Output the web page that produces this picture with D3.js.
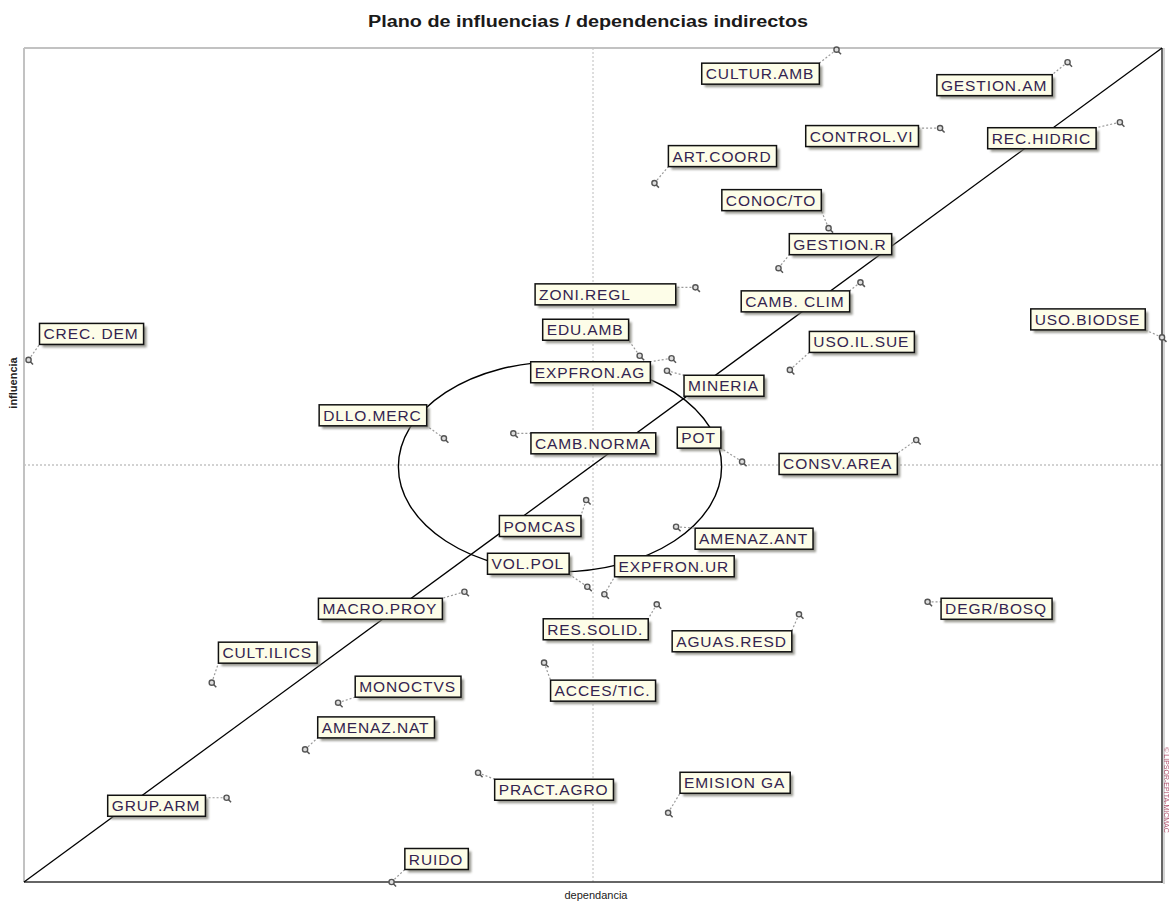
<!DOCTYPE html>
<html>
<head>
<meta charset="utf-8">
<script src="https://cdn.jsdelivr.net/npm/d3@7"></script>
<style>
  html, body { margin: 0; padding: 0; background: #ffffff; }
  svg { display: block; }
  .lbl { font-family: "Liberation Sans", Arial, sans-serif; white-space: pre; }
</style>
</head>
<body>
<svg id="chart" width="1169" height="903"></svg>
<script>
// ---------- data (axis units 0..100) ----------
const variables = [
  "CULTUR.AMB", "GESTION.AM", "CONTROL.VI", "REC.HIDRIC", "ART.COORD",
  "CONOC/TO", "GESTION.R", "ZONI.REGL", "CAMB. CLIM", "USO.BIODSE",
  "CREC. DEM", "EDU.AMB", "EXPFRON.AG", "MINERIA", "USO.IL.SUE",
  "DLLO.MERC", "CAMB.NORMA", "POT", "CONSV.AREA", "POMCAS",
  "AMENAZ.ANT", "VOL.POL", "EXPFRON.UR", "MACRO.PROY", "RES.SOLID.",
  "AGUAS.RESD", "DEGR/BOSQ", "CULT.ILICS", "MONOCTVS", "ACCES/TIC.",
  "AMENAZ.NAT", "PRACT.AGRO", "EMISION GA", "GRUP.ARM", "RUIDO"
];
const dependencia = [
  71.4, 91.7, 80.5, 96.3, 55.4,
  70.7, 66.3, 59.0, 73.5, 100.0,
  0.4, 54.1, 56.9, 56.5, 67.3,
  36.9, 43.0, 63.1, 78.4, 49.4,
  57.3, 49.5, 51.0, 38.7, 55.6,
  68.1, 79.4, 16.5, 27.6, 45.7,
  24.7, 39.9, 56.6, 17.8, 32.3
];
const influencia = [
  99.8, 98.3, 90.4, 91.1, 83.8,
  78.4, 73.6, 71.3, 71.9, 65.3,
  62.6, 63.1, 62.8, 61.3, 61.4,
  53.2, 53.8, 50.4, 53.0, 45.8,
  42.6, 35.4, 34.5, 34.8, 33.3,
  32.1, 33.6, 23.9, 21.5, 26.3,
  15.9, 13.1, 8.3, 10.1, 0.0
];
// label box centre offsets from each point (layout of the annotations, px)
const labelOffsets = [
  [-76, 24], [-73, 23], [-78, 8], [-78, 16], [68, -27],
  [-57, -28], [62, -24], [-90, 7], [-65, 19], [-74, -18],
  [63, -26], [-54, -26], [-81, 14], [57, 15], [72, -28],
  [-71, -23], [80, 10], [-43, -24], [-78, 24], [-46, 26],
  [78, 12], [-59, -23], [70, -28], [-84, 17], [-61, 25],
  [-67, 27], [69, 7], [56, -30], [70, -16], [59, 28],
  [71, -22], [76, 17], [67, -30], [-70, 8], [45, -23]
];
const labelPad = { "ZONI.REGL": 40 };   // extra blank room in that box
const meanDependencia = 50, meanInfluencia = 50;
const ellipseCentre = [47.1, 49.8], ellipseRadii = [14.2, 12.6];
const titleText = "Plano de influencias / dependencias indirectos";
const xLabel = "dependancia", yLabel = "influencia";

// ---------- layout ----------
const svg = d3.select("#chart");
const L = 24, R = 1162, T = 48, B = 882;
const x = d3.scaleLinear().domain([0, 100]).range([L, R]);
const y = d3.scaleLinear().domain([0, 100]).range([B, T]);

const defs = svg.append("defs");
const f = defs.append("filter").attr("id", "sh").attr("x", "-20%").attr("y", "-30%").attr("width", "150%").attr("height", "180%");
f.append("feGaussianBlur").attr("stdDeviation", 1.2);

// title
svg.append("text").attr("x", 588).attr("y", 27).attr("text-anchor", "middle")
  .attr("font-family", "Liberation Sans, Arial, sans-serif").attr("font-weight", "bold")
  .attr("font-size", 16).attr("textLength", 440).attr("lengthAdjust", "spacingAndGlyphs")
  .attr("fill", "#1a1a1a").text(titleText);

// mean lines (dotted)
svg.append("line").attr("x1", x(meanDependencia)).attr("x2", x(meanDependencia))
  .attr("y1", T).attr("y2", B).attr("stroke", "#bcbcbc").attr("stroke-dasharray", "2,2");
svg.append("line").attr("x1", L).attr("x2", R).attr("y1", y(meanInfluencia)).attr("y2", y(meanInfluencia))
  .attr("stroke", "#c4c4c4").attr("stroke-width", 1.5).attr("stroke-dasharray", "2,2");

// frame
svg.append("line").attr("x1", L).attr("x2", R).attr("y1", T).attr("y2", T).attr("stroke", "#c2c2c2").attr("stroke-width", 2);
svg.append("line").attr("x1", L).attr("x2", L).attr("y1", T).attr("y2", B).attr("stroke", "#c2c2c2").attr("stroke-width", 2);
svg.append("line").attr("x1", R).attr("x2", R).attr("y1", T).attr("y2", B + 1).attr("stroke", "#333").attr("stroke-width", 1.5);
svg.append("line").attr("x1", R + 2).attr("x2", R + 2).attr("y1", T).attr("y2", B + 2).attr("stroke", "#aaa").attr("stroke-width", 1);
svg.append("line").attr("x1", L).attr("x2", R).attr("y1", B).attr("y2", B).attr("stroke", "#333").attr("stroke-width", 1.5);

// axis labels
svg.append("text").attr("x", x(50) + 3).attr("y", 899).attr("text-anchor", "middle")
  .attr("font-family", "Liberation Sans, Arial, sans-serif").attr("font-size", 11)
  .attr("fill", "#222").text(xLabel);
svg.append("text").attr("transform", "translate(17,383) rotate(-90)").attr("text-anchor", "middle")
  .attr("font-family", "Liberation Sans, Arial, sans-serif").attr("font-size", 11).attr("font-weight", "bold")
  .attr("fill", "#222").text(yLabel);

// watermark along the right edge
svg.append("text").attr("transform", "translate(1164,790) rotate(90)").attr("text-anchor", "middle")
  .attr("font-family", "Liberation Sans, Arial, sans-serif").attr("font-size", 7)
  .attr("fill", "#a03050").attr("opacity", 0.8).text("© LIPSOR-EPITA-MICMAC");

// diagonal
svg.append("line").attr("x1", x(0)).attr("y1", y(0)).attr("x2", x(100)).attr("y2", y(100))
  .attr("stroke", "#000").attr("stroke-width", 1.3);

// ellipse
svg.append("ellipse")
  .attr("cx", x(ellipseCentre[0])).attr("cy", y(ellipseCentre[1]))
  .attr("rx", x(ellipseRadii[0]) - x(0)).attr("ry", y(0) - y(ellipseRadii[1]))
  .attr("fill", "none").attr("stroke", "#000").attr("stroke-width", 1.4);

// points + labels
const data = variables.map((name, i) => ({
  name, dx: dependencia[i], iy: influencia[i], off: labelOffsets[i]
}));

const g = svg.append("g");
const items = g.selectAll("g.item").data(data).enter().append("g").attr("class", "item");

items.each(function(d) {
  const sel = d3.select(this);
  const px = x(d.dx), py = y(d.iy);
  const txt = sel.append("text").attr("class", "lbl").attr("font-size", 15.5)
    .attr("letter-spacing", 0.9).attr("fill", "#33244f").text(d.name);
  const w = txt.node().getComputedTextLength() + 9 + (labelPad[d.name] || 0);
  const h = 21;
  const cx = px + d.off[0], cy = py + d.off[1];
  const bx = cx - w / 2, by = cy - h / 2;
  // leader to nearest point on box
  const nx = Math.max(bx, Math.min(px, bx + w)), ny = Math.max(by, Math.min(py, by + h));
  sel.insert("line", "text").attr("x1", px).attr("y1", py).attr("x2", nx).attr("y2", ny)
    .attr("stroke", "#9a9a9a").attr("stroke-width", 1.2).attr("stroke-dasharray", "2,2");
  sel.insert("rect", "text").attr("x", bx + 3).attr("y", by + 3).attr("width", w).attr("height", h)
    .attr("fill", "#7a7a70").attr("opacity", 0.75).attr("filter", "url(#sh)");
  sel.insert("rect", "text").attr("x", bx).attr("y", by).attr("width", w).attr("height", h)
    .attr("fill", "#fdfde8").attr("stroke", "#111").attr("stroke-width", 1.5);
  txt.attr("x", bx + 4).attr("y", by + h / 2 + 5.5);
  // point marker (small magnifier-like glyph)
  sel.append("circle").attr("cx", px).attr("cy", py).attr("r", 2.6)
    .attr("fill", "#ddd").attr("stroke", "#555").attr("stroke-width", 1.4);
  sel.append("line").attr("x1", px + 1.8).attr("y1", py + 1.8).attr("x2", px + 4.5).attr("y2", py + 4.5)
    .attr("stroke", "#555").attr("stroke-width", 1.5);
});
</script>
</body>
</html>
